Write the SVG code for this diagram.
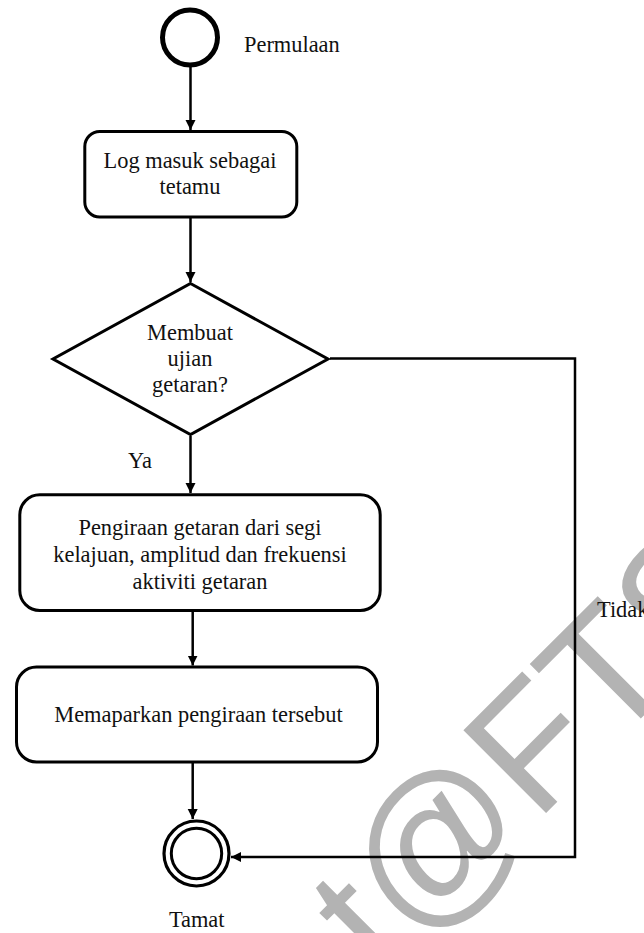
<svg xmlns="http://www.w3.org/2000/svg" width="644" height="933" viewBox="0 0 644 933" font-family="'Liberation Serif', 'Times New Roman', Times, serif">
  <defs>
    <marker id="arrow" markerUnits="userSpaceOnUse" markerWidth="11" markerHeight="11" refX="10" refY="5" orient="auto">
      <path d="M0,0 L10,5 L0,10 z" fill="#000"/>
    </marker>
    <style>
      .shape { fill: #fff; stroke: #000; stroke-width: 3; }
      .edge { fill: none; stroke: #000; stroke-width: 2.5; marker-end: url(#arrow); }
      text.label { font-family: 'Liberation Serif', 'Times New Roman', Times, serif; font-size: 22.4px; fill: #111; }
      text.mid { text-anchor: middle; }
      text.mark { font-family: 'Liberation Sans', Arial, sans-serif; font-size: 170px; fill: #b3b3b3; }
    </style>
  </defs>
  <rect width="644" height="933" fill="#fff"/>

  <!-- background watermark -->
  <text class="mark" transform="translate(536.5 822.7) rotate(-45)" x="-220" y="0">t@FTS</text>

  <g id="connectors">
    <line class="edge" x1="190.5" y1="65" x2="190.5" y2="130"/>
    <line class="edge" x1="190.5" y1="218" x2="190.5" y2="282"/>
    <line class="edge" x1="190.5" y1="436" x2="190.5" y2="493"/>
    <line class="edge" x1="192.7" y1="612" x2="192.7" y2="665.5"/>
    <line class="edge" x1="192.7" y1="763" x2="192.7" y2="819"/>
    <polyline class="edge" points="330,358.5 575,358.5 575,857 231,857"/>
  </g>

  <g id="start">
    <circle cx="190" cy="37.5" r="27.5" fill="#fff" stroke="#000" stroke-width="5"/>
    <text class="label" x="244" y="52">Permulaan</text>
  </g>

  <g id="login">
    <rect class="shape" x="84.8" y="131.5" width="212" height="85.5" rx="15"/>
    <text class="label mid" x="190" y="168">Log masuk sebagai</text>
    <text class="label mid" x="190" y="194">tetamu</text>
  </g>

  <g id="decision">
    <polygon class="shape" points="190.5,283.5 328,359 190.5,434.5 53,359" stroke-linejoin="miter"/>
    <text class="label mid" x="190" y="340">Membuat</text>
    <text class="label mid" x="190" y="366">ujian</text>
    <text class="label mid" x="190" y="392">getaran?</text>
  </g>

  <g id="compute">
    <rect class="shape" x="19.8" y="494.8" width="360.4" height="115.7" rx="20"/>
    <text class="label mid" x="200" y="535">Pengiraan getaran dari segi</text>
    <text class="label mid" x="200" y="562">kelajuan, amplitud dan frekuensi</text>
    <text class="label mid" x="200" y="589">aktiviti getaran</text>
  </g>

  <g id="display">
    <rect class="shape" x="16.5" y="667" width="361" height="95" rx="20"/>
    <text class="label mid" x="198.5" y="722">Memaparkan pengiraan tersebut</text>
  </g>

  <g id="end">
    <circle cx="196.5" cy="853.5" r="32.5" fill="#fff" stroke="#000" stroke-width="3.2"/>
    <circle cx="196.5" cy="853.5" r="25.2" fill="#fff" stroke="#000" stroke-width="3"/>
    <text class="label mid" x="196.7" y="927">Tamat</text>
  </g>

  <g id="edge-labels">
    <text class="label" x="128" y="468">Ya</text>
    <text class="label" x="597" y="617">Tidak</text>
  </g>
</svg>
